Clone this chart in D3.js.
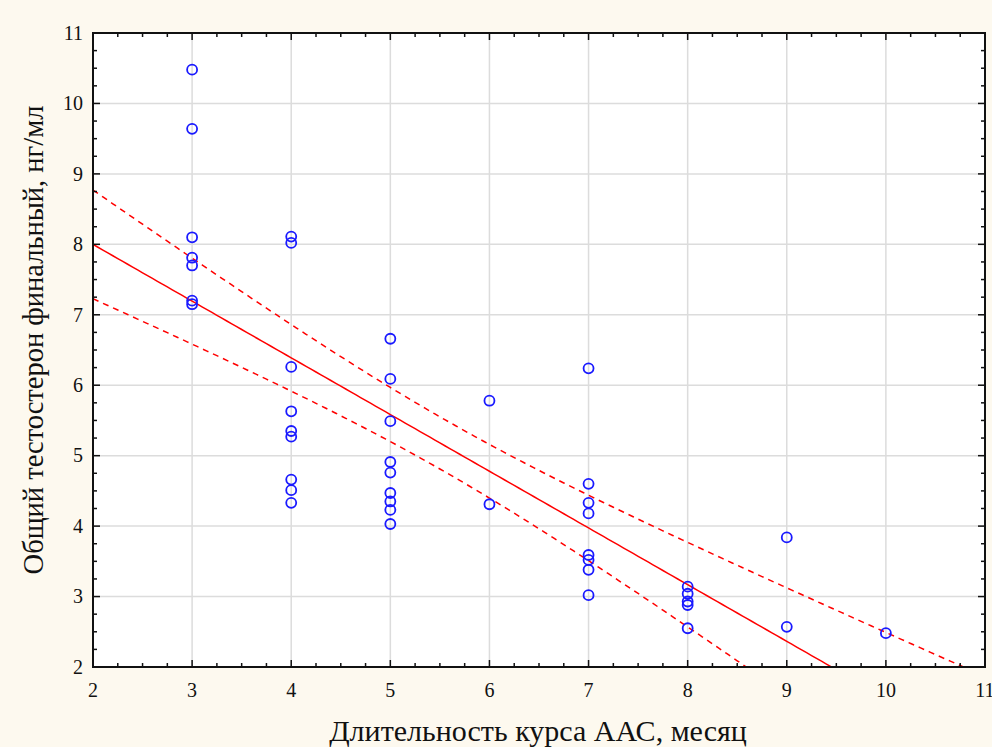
<!DOCTYPE html>
<html>
<head>
<meta charset="utf-8">
<script src="https://cdn.jsdelivr.net/npm/d3@7"></script>
<style>
  body { margin: 0; background: #fdf9ef; }
  svg { display: block; }
  text { font-family: "Liberation Serif", "Times New Roman", serif; fill: #111; }
</style>
</head>
<body>
<div id="chart"></div>
<script>
// Data (duration of course, months -> final testosterone, ng/ml)
const months = [
  3, 3, 3, 3, 3, 3, 3,
  4, 4, 4, 4, 4, 4, 4, 4, 4,
  5, 5, 5, 5, 5, 5, 5, 5, 5,
  6, 6,
  7, 7, 7, 7, 7, 7, 7, 7,
  8, 8, 8, 8, 8,
  9, 9,
  10
];
const testosterone = [
  10.48, 9.64, 8.10, 7.81, 7.70, 7.20, 7.15,
  8.11, 8.02, 6.26, 5.63, 5.35, 5.27, 4.66, 4.51, 4.33,
  6.66, 6.09, 5.49, 4.91, 4.76, 4.47, 4.35, 4.23, 4.03,
  5.78, 4.31,
  6.24, 4.60, 4.33, 4.18, 3.59, 3.52, 3.38, 3.02,
  3.14, 3.04, 2.93, 2.88, 2.55,
  3.84, 2.57,
  2.48
];
const xTicks = [2, 3, 4, 5, 6, 7, 8, 9, 10, 11];
const yTicks = [2, 3, 4, 5, 6, 7, 8, 9, 10, 11];
const xTitle = "Длительность курса ААС, месяц";
const yTitle = "Общий тестостерон финальный, нг/мл";

const W = 992, H = 747;
const margin = { left: 93, right: 7, top: 33, bottom: 80 };
const iw = W - margin.left - margin.right;
const ih = H - margin.top - margin.bottom;

const svg = d3.select("#chart").append("svg")
  .attr("width", W).attr("height", H);

svg.append("rect").attr("width", W).attr("height", H).attr("fill", "#fdf9ef");

const g = svg.append("g").attr("transform", `translate(${margin.left},${margin.top})`);

const x = d3.scaleLinear().domain([2, 11]).range([0, iw]);
const y = d3.scaleLinear().domain([2, 11]).range([ih, 0]);

g.append("rect").attr("width", iw).attr("height", ih).attr("fill", "#fff");

g.append("clipPath").attr("id", "clip")
  .append("rect").attr("width", iw).attr("height", ih);

// grid
g.append("g").selectAll("line").data(xTicks.slice(1, -1)).join("line")
  .attr("x1", d => x(d)).attr("x2", d => x(d))
  .attr("y1", 0).attr("y2", ih)
  .attr("stroke", "#dcdcdc").attr("stroke-width", 1.5);
g.append("g").selectAll("line").data(yTicks.slice(1, -1)).join("line")
  .attr("y1", d => y(d)).attr("y2", d => y(d))
  .attr("x1", 0).attr("x2", iw)
  .attr("stroke", "#dcdcdc").attr("stroke-width", 1.5);

// linear regression with 95% confidence band
const n = months.length;
const mx = d3.mean(months), my = d3.mean(testosterone);
let sxx = 0, sxy = 0;
months.forEach((v, i) => { sxx += (v - mx) ** 2; sxy += (v - mx) * (testosterone[i] - my); });
const b = sxy / sxx, a = my - b * mx;
let sse = 0;
months.forEach((v, i) => { sse += (testosterone[i] - (a + b * v)) ** 2; });
const s = Math.sqrt(sse / (n - 2));
const tval = 2.0195; // t(0.975, 41)

const xs = d3.range(2, 11.001, 0.05);
const fit = xs.map(v => [v, a + b * v]);
const band = sign => xs.map(v => [v, a + b * v + sign * tval * s * Math.sqrt(1 / n + (v - mx) ** 2 / sxx)]);

const line = d3.line().x(d => x(d[0])).y(d => y(d[1]));
const lines = g.append("g").attr("clip-path", "url(#clip)");
lines.append("path").datum(fit).attr("d", line)
  .attr("fill", "none").attr("stroke", "#ff0000").attr("stroke-width", 1.5);
[1, -1].forEach(sg => {
  lines.append("path").datum(band(sg)).attr("d", line)
    .attr("fill", "none").attr("stroke", "#ff0000").attr("stroke-width", 1.5)
    .attr("stroke-dasharray", "6,5");
});

// points
g.append("g").selectAll("circle").data(months).join("circle")
  .attr("cx", d => x(d))
  .attr("cy", (d, i) => y(testosterone[i]))
  .attr("r", 5)
  .attr("fill", "none").attr("stroke", "#1a1aff").attr("stroke-width", 1.8);

// frame and ticks (inward)
const minor = d3.range(2, 11.001, 0.25);
const frame = g.append("g").attr("stroke", "#111");
function tickLen(d) { return Number.isInteger(d) ? 7 : 4; }
frame.selectAll(".tb").data(minor).join("line")
  .attr("x1", d => x(d)).attr("x2", d => x(d))
  .attr("y1", ih).attr("y2", d => ih - tickLen(d)).attr("stroke-width", 1.5);
frame.selectAll(".tt").data(minor).join("line")
  .attr("x1", d => x(d)).attr("x2", d => x(d))
  .attr("y1", 0).attr("y2", d => tickLen(d)).attr("stroke-width", 1.5);
frame.selectAll(".tl").data(minor).join("line")
  .attr("y1", d => y(d)).attr("y2", d => y(d))
  .attr("x1", 0).attr("x2", d => tickLen(d)).attr("stroke-width", 1.5);
frame.selectAll(".tr").data(minor).join("line")
  .attr("y1", d => y(d)).attr("y2", d => y(d))
  .attr("x1", iw).attr("x2", d => iw - tickLen(d)).attr("stroke-width", 1.5);
g.append("rect").attr("width", iw).attr("height", ih)
  .attr("fill", "none").attr("stroke", "#111").attr("stroke-width", 2);

// tick labels
g.append("g").selectAll("text").data(xTicks).join("text")
  .attr("x", d => x(d)).attr("y", ih + 30)
  .attr("text-anchor", "middle").attr("font-size", 20)
  .text(d => d);
g.append("g").selectAll("text").data(yTicks).join("text")
  .attr("x", -10).attr("y", d => y(d)).attr("dy", "0.34em")
  .attr("text-anchor", "end").attr("font-size", 20)
  .text(d => d);

// axis titles
svg.append("text")
  .attr("x", 538).attr("y", 741)
  .attr("text-anchor", "middle").attr("font-size", 30)
  .text(xTitle);
svg.append("text")
  .attr("transform", `translate(43,340) rotate(-90)`)
  .attr("text-anchor", "middle").attr("font-size", 28.5)
  .text(yTitle);
</script>
</body>
</html>
